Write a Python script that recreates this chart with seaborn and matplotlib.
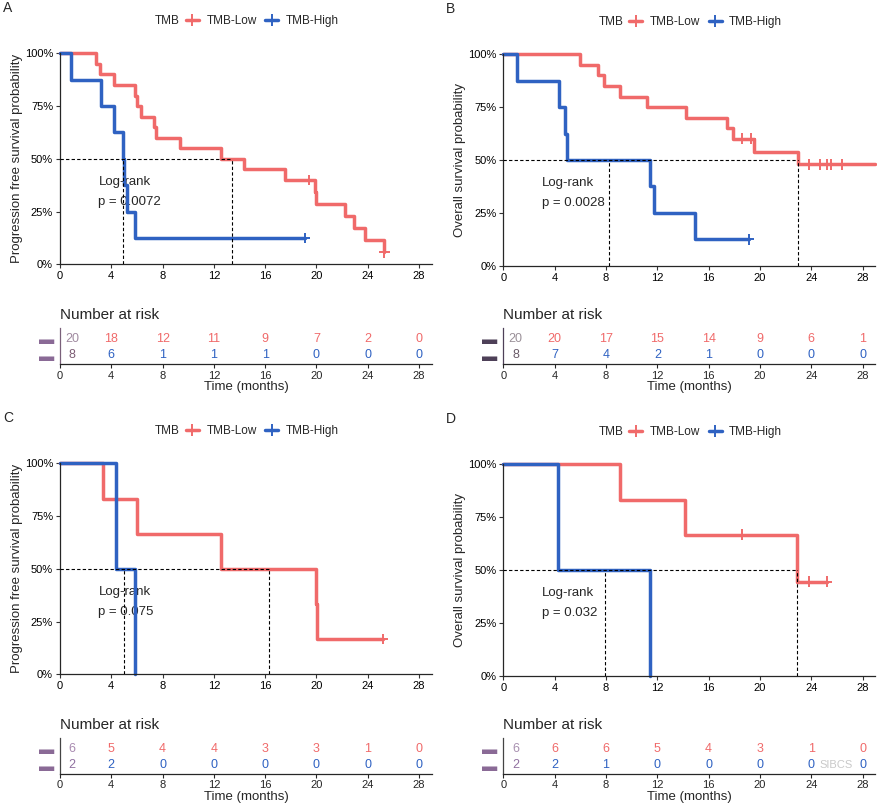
import numpy as np
import pandas as pd
import matplotlib
matplotlib.use("Agg")
import matplotlib.pyplot as plt
import seaborn as sns
from matplotlib.lines import Line2D

# ---------------- data ----------------
groups = ["TMB-Low", "TMB-High"]
palette = {"TMB-Low": "#F06A6A", "TMB-High": "#2F62C2"}
risk_times = [0, 4, 8, 12, 16, 20, 24, 28]

# Panel A (PFS, cohort 1)
a_low_t = [0, 2.78, 3.1, 4.23, 5.87, 6.03, 6.3, 7.3, 7.45, 9.35, 12.55, 14.36, 17.58, 19.9, 20.0, 22.2, 22.9, 23.8, 25.27, 25.3]
a_low_s = [1, .95, .90, .85, .80, .75, .70, .65, .60, .55, .50, .45, .40, .343, .286, .229, .171, .114, .057, .057]
a_low_ct = [19.4, 25.3]
a_low_cs = [0.40, 0.057]
a_high_t = [0, 0.83, 3.2, 4.23, 4.88, 5.0, 5.2, 5.85, 19.1]
a_high_s = [1, .875, .75, .625, .5, .375, .25, .125, .125]
a_high_ct = [19.1]
a_high_cs = [0.125]
a_medians = [13.43, 4.88]
a_p = "p = 0.0072"
a_risk_low = [20, 18, 12, 11, 9, 7, 2, 0]
a_risk_high = [8, 6, 1, 1, 1, 0, 0, 0]

# Panel B (OS, cohort 1)
b_low_t = [0, 6.0, 7.35, 7.87, 9.1, 11.2, 14.2, 17.45, 17.9, 19.55, 22.94, 29.0]
b_low_s = [1, .95, .90, .85, .80, .75, .70, .65, .60, .54, .48, .48]
b_low_ct = [18.6, 19.3, 23.82, 24.68, 25.25, 25.5, 26.4]
b_low_cs = [.60, .60, .48, .48, .48, .48, .48]
b_high_t = [0, 1.04, 4.34, 4.8, 4.96, 11.45, 11.77, 14.94, 19.14]
b_high_s = [1, .875, .75, .625, .5, .375, .25, .125, .125]
b_high_ct = [19.14]
b_high_cs = [0.125]
b_medians = [22.94, 8.26]
b_p = "p = 0.0028"
b_risk_low = [20, 20, 17, 15, 14, 9, 6, 1]
b_risk_high = [8, 7, 4, 2, 1, 0, 0, 0]

# Panel C (PFS, cohort 2)
c_low_t = [0, 3.38, 5.97, 12.55, 20.0, 20.05, 25.2]
c_low_s = [1, .833, .667, .5, .333, .167, .167]
c_low_ct = [25.2]
c_low_cs = [0.167]
c_high_t = [0, 4.34, 5.82]
c_high_s = [1, .5, 0]
c_high_ct = []
c_high_cs = []
c_medians = [16.29, 5.01]
c_p = "p = 0.075"
c_risk_low = [6, 5, 4, 4, 3, 3, 1, 0]
c_risk_high = [2, 2, 0, 0, 0, 0, 0, 0]

# Panel D (OS, cohort 2)
d_low_t = [0, 9.09, 14.18, 22.9, 25.2]
d_low_s = [1, .833, .667, .444, .444]
d_low_ct = [18.57, 23.8, 25.2]
d_low_cs = [.667, .444, .444]
d_high_t = [0, 4.29, 11.43]
d_high_s = [1, .5, 0]
d_high_ct = []
d_high_cs = []
d_medians = [22.9, 7.92]
d_p = "p = 0.032"
d_risk_low = [6, 6, 6, 5, 4, 3, 1, 0]
d_risk_high = [2, 2, 1, 0, 0, 0, 0, 0]

# ---------------- style ----------------
sns.set_style("ticks")
plt.rcParams["font.family"] = ["Liberation Sans", "DejaVu Sans"]
plt.rcParams["axes.linewidth"] = 0.9

W, H = 878, 806
fig = plt.figure(figsize=(W / 100, H / 100), dpi=100)


def rect(l, t, r, b):
    return [l / W, 1 - b / H, (r - l) / W, (b - t) / H]


def main_panel(box, letter, ylab, lt, ls, lct, lcs, ht, hs, hct, hcs, medians, ptxt):
    ax = fig.add_axes(rect(*box))
    curves = pd.DataFrame({
        "time": lt + ht,
        "surv": ls + hs,
        "group": ["TMB-Low"] * len(lt) + ["TMB-High"] * len(ht),
    })
    cens = pd.DataFrame({
        "time": lct + hct,
        "surv": lcs + hcs,
        "group": ["TMB-Low"] * len(lct) + ["TMB-High"] * len(hct),
    })
    sns.lineplot(data=curves, x="time", y="surv", hue="group", hue_order=groups,
                 palette=palette, drawstyle="steps-post", estimator=None, sort=False,
                 linewidth=2.5, legend=False, ax=ax, zorder=2)
    if len(cens):
        sns.scatterplot(data=cens, x="time", y="surv", hue="group", hue_order=groups,
                        palette=palette, marker="+", s=60, linewidth=1.4,
                        legend=False, ax=ax, zorder=2.5, clip_on=False)
    for ln in ax.lines:
        ln.set_clip_on(False)
    ax.hlines(0.5, 0, max(medians), colors="black", linestyles=(0, (3, 2)), lw=0.8, zorder=3)
    ax.vlines(medians, 0, 0.5, colors="black", linestyles=(0, (3, 2)), lw=0.8, zorder=3)
    ax.text(3.0, 0.39, "Log-rank", fontsize=9.5, ha="left", va="center", zorder=1)
    ax.text(3.0, 0.295, ptxt, fontsize=9.5, ha="left", va="center", zorder=1)
    ax.set_xlim(0, 29)
    ax.set_ylim(0, 1)
    ax.set_xticks(risk_times)
    ax.set_yticks([0, .25, .5, .75, 1])
    ax.set_yticklabels(["0%", "25%", "50%", "75%", "100%"])
    ax.tick_params(labelsize=8, length=3, width=0.8, pad=2, colors="#333333", labelcolor="black")
    sns.despine(ax=ax)
    ax.set_xlabel("")
    ax.set_ylabel(ylab, fontsize=9.5)
    ax.yaxis.set_label_coords(-0.1, 0.5)
    # legend
    l, t, r, b = box
    handles = [Line2D([], [], color=palette[g], lw=2.5, marker="+", markersize=8,
                      markeredgewidth=1.4) for g in groups]
    fig.text((l + 95) / W, 1 - (t - 32) / H, "TMB", fontsize=8.5, ha="left", va="center")
    fig.legend(handles, groups, loc="center left", ncol=2, frameon=False, fontsize=8.5,
               bbox_to_anchor=((l + 126) / W, 1 - (t - 32) / H), handlelength=1.1,
               handletextpad=0.65, columnspacing=0.7, borderpad=0, borderaxespad=0)
    fig.text((l - 57) / W, 1 - (t - 45) / H, letter, fontsize=10, ha="left", va="center")
    return ax


def risk_panel(box, rlow, rhigh, first_cols, bar_col, spine_col):
    ax = fig.add_axes(rect(*box))
    ax.set_xlim(0, 29)
    ax.set_ylim(-0.04, 2.15)
    rows = {"TMB-Low": 1.5, "TMB-High": 0.5}
    for g, vals, fc in zip(groups, [rlow, rhigh], first_cols):
        for i, (tm, v) in enumerate(zip(risk_times, vals)):
            x = 0.95 if i == 0 else tm
            col = fc if i == 0 else palette[g]
            ax.text(x, rows[g], str(v), ha="center", va="center", fontsize=9, color=col)
    ax.set_yticks([rows["TMB-Low"], rows["TMB-High"]])
    ax.set_yticklabels(["\u25AC", "\u25AC"], fontsize=11, color=bar_col)
    ax.tick_params(axis="y", length=0, pad=4)
    ax.set_xticks(risk_times)
    ax.tick_params(axis="x", labelsize=8, length=3, width=0.8, pad=1.5)
    sns.despine(ax=ax)
    ax.spines["left"].set_color(spine_col)
    ax.set_xlabel("Time (months)", fontsize=9.5, labelpad=0.5)
    l, t, r, b = box
    fig.text(l / W, 1 - (t - 13) / H, "Number at risk", fontsize=11, ha="left", va="center")
    return ax


main_panel((60, 53.3, 431.8, 264.3), "A", "Progression free survival probability",
           a_low_t, a_low_s, a_low_ct, a_low_cs, a_high_t, a_high_s, a_high_ct, a_high_cs, a_medians, a_p)
main_panel((503.3, 54.3, 875.5, 265.7), "B", "Overall survival probability",
           b_low_t, b_low_s, b_low_ct, b_low_cs, b_high_t, b_high_s, b_high_ct, b_high_cs, b_medians, b_p)
main_panel((60, 463.3, 431.8, 674.3), "C", "Progression free survival probability",
           c_low_t, c_low_s, c_low_ct, c_low_cs, c_high_t, c_high_s, c_high_ct, c_high_cs, c_medians, c_p)
main_panel((503.3, 464.3, 875.5, 675.7), "D", "Overall survival probability",
           d_low_t, d_low_s, d_low_ct, d_low_cs, d_high_t, d_high_s, d_high_ct, d_high_cs, d_medians, d_p)

risk_panel((60, 328, 431.8, 364.3), a_risk_low, a_risk_high, ["#A08AA0", "#7D5D75"], "#8A6A96", "#7A607A")
risk_panel((503.3, 328, 875.5, 364.3), b_risk_low, b_risk_high, ["#9A9098", "#6A5A68"], "#4E4058", "#4E4058")
risk_panel((60, 738, 431.8, 774), c_risk_low, c_risk_high, ["#A88AB0", "#9070A0"], "#8A6A96", "#444444")
risk_panel((503.3, 738, 875.5, 774), d_risk_low, d_risk_high, ["#A890B0", "#9070A0"], "#8A6A96", "#444444")

fig.text(836 / W, 1 - 765 / H, "SIBCS", fontsize=8, color="#BBBBBB", alpha=0.8,
         ha="center", va="center")

fig.savefig("out.png", dpi=100)
